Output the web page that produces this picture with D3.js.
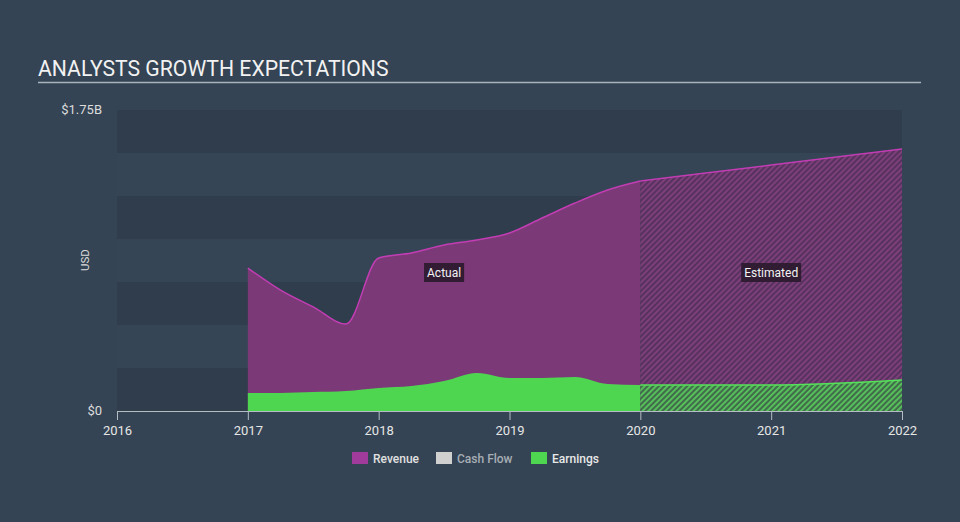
<!DOCTYPE html>
<html><head><meta charset="utf-8">
<script src="https://cdn.jsdelivr.net/npm/d3@7"></script>
<style>
html,body{margin:0;padding:0;background:#344454;}
svg{display:block;font-family:Roboto,"Open Sans",sans-serif;}
</style></head><body>
<svg id="chart" width="960" height="522"></svg>
<script>
// ---- data ----
const actualDates   = [2017.0, 2017.25, 2017.5, 2017.75, 2018.0, 2018.25, 2018.5, 2018.75, 2019.0, 2019.25, 2019.5, 2019.75, 2020.0];
const revenueActual = [0.831, 0.703, 0.605, 0.506, 0.890, 0.919, 0.965, 0.994, 1.035, 1.122, 1.209, 1.285, 1.337];
const earningsActual= [0.105, 0.105, 0.110, 0.116, 0.134, 0.145, 0.174, 0.221, 0.192, 0.192, 0.198, 0.157, 0.151];
const estDates      = [2020.0, 2021.0, 2022.0];
const revenueEst    = [1.337, 1.430, 1.523];
const earningsEst   = [0.151, 0.151, 0.180];
const xTicks = [2016, 2017, 2018, 2019, 2020, 2021, 2022];
const yTickValues = [0, 1.75];
const yTickLabels = ["$0", "$1.75B"];
const legendNames = ["Revenue", "Cash Flow", "Earnings"];
const legendColors = ["#a13b9b", "#d0d0d0", "#4fd651"];
const periodLabels = ["Actual", "Estimated"];
const periodCenters = [2018.5, 2021];

const W = 960, H = 522;
const svg = d3.select("#chart");
const x = d3.scaleLinear().domain([2016, 2022]).range([117, 902]);
const y = d3.scaleLinear().domain([0, 1.75]).range([411, 110]);

// background
svg.append("rect").attr("width", W).attr("height", H).attr("fill", "#344454");

// bands
const bandStep = 0.25;
for (let i = 0; i < 7; i++) {
  const lo = i * bandStep, hi = lo + bandStep;
  svg.append("rect").attr("x", x(2016)).attr("width", x(2022) - x(2016))
    .attr("y", y(hi)).attr("height", y(lo) - y(hi))
    .attr("fill", i % 2 === 0 ? "#2f3d4d" : "#354556");
}

// title
svg.append("text").attr("x", 38).attr("y", 76).attr("fill", "#f2f2f2")
  .attr("font-size", 21.2).text("ANALYSTS GROWTH EXPECTATIONS");
svg.append("line").attr("x1", 38).attr("x2", 921).attr("y1", 82.5).attr("y2", 82.5)
  .attr("stroke", "#a9b3bd").attr("stroke-width", 1.5);

// patterns
const defs = svg.append("defs");
function hatch(id, bg, line) {
  const p = defs.append("pattern").attr("id", id).attr("patternUnits", "userSpaceOnUse")
    .attr("width", 4).attr("height", 4).attr("patternTransform", "rotate(45)");
  p.append("rect").attr("width", 4).attr("height", 4).attr("fill", bg);
  p.append("rect").attr("width", 1.8).attr("height", 4).attr("fill", line);
}
hatch("hRev", "#58325f", "#80407d");
hatch("hEarn", "#416b4b", "#58c85c");

const curve = d3.curveMonotoneX;
const area = d3.area().x(d => x(d[0])).y0(y(0)).y1(d => y(d[1])).curve(curve);
const line = d3.line().x(d => x(d[0])).y(d => y(d[1])).curve(curve);

const revA = actualDates.map((d, i) => [d, revenueActual[i]]);
const earnA = actualDates.map((d, i) => [d, earningsActual[i]]);
const revE = estDates.map((d, i) => [d, revenueEst[i]]);
const earnE = estDates.map((d, i) => [d, earningsEst[i]]);

// revenue
svg.append("path").datum(revA).attr("d", area).attr("fill", "#7b3a77");
svg.append("path").datum(revE).attr("d", area).attr("fill", "url(#hRev)");
svg.append("path").datum(revA).attr("d", line).attr("fill", "none").attr("stroke", "#c23db3").attr("stroke-width", 1.5);
svg.append("path").datum(revE).attr("d", line).attr("fill", "none").attr("stroke", "#c23db3").attr("stroke-width", 1.5);

// earnings
svg.append("path").datum(earnA).attr("d", area).attr("fill", "#4fd651");
svg.append("path").datum(earnE).attr("d", area).attr("fill", "url(#hEarn)");
svg.append("path").datum(earnE).attr("d", line).attr("fill", "none").attr("stroke", "#55e25a").attr("stroke-width", 1.5);

// x axis
const xAxis = d3.axisBottom(x).tickValues(xTicks).tickFormat(d3.format("d")).tickSize(9).tickSizeOuter(0);
const gx = svg.append("g").attr("transform", `translate(0,${y(0)})`).call(xAxis);
gx.select(".domain").attr("stroke", "#b4bcc4");
gx.selectAll(".tick line").attr("stroke", "#b4bcc4");
gx.selectAll(".tick text").attr("fill", "#e6e6e6").attr("font-size", 13).attr("dy", "0.95em")
  .attr("font-family", "Roboto, sans-serif");

// y labels
svg.selectAll(".ylab").data(yTickValues).enter().append("text")
  .attr("x", 102).attr("y", d => y(d) + 4).attr("text-anchor", "end")
  .attr("fill", "#dcdcdc").attr("font-size", 13).text((d, i) => yTickLabels[i]);
svg.append("text").attr("transform", `translate(89,260) rotate(-90)`).attr("text-anchor", "middle")
  .attr("fill", "#dcdcdc").attr("font-size", 11.5).text("USD");

// period labels
periodLabels.forEach((t, i) => {
  const g = svg.append("g").attr("transform", `translate(${x(periodCenters[i])},272.5)`);
  const txt = g.append("text").attr("text-anchor", "middle").attr("dy", "0.35em")
    .attr("fill", "#f2f2f2").attr("font-size", 12).text(t);
  const bb = txt.node().getBBox();
  g.insert("rect", "text").attr("x", bb.x - 3).attr("y", -9.5).attr("width", bb.width + 6).attr("height", 19)
    .attr("fill", "#2a1a2c").attr("opacity", 0.9);
});

// legend
const legX = [352, 436, 531];
const legText = ["#e0e0e0", "#a8aeb4", "#e8e8e8"];
legendNames.forEach((n, i) => {
  svg.append("rect").attr("x", legX[i]).attr("y", 452).attr("width", 16).attr("height", 12).attr("fill", legendColors[i]);
  svg.append("text").attr("x", legX[i] + 21).attr("y", 462.5).attr("fill", legText[i])
    .attr("font-size", 12).attr("font-weight", 500).text(n);
});
</script>
</body></html>
